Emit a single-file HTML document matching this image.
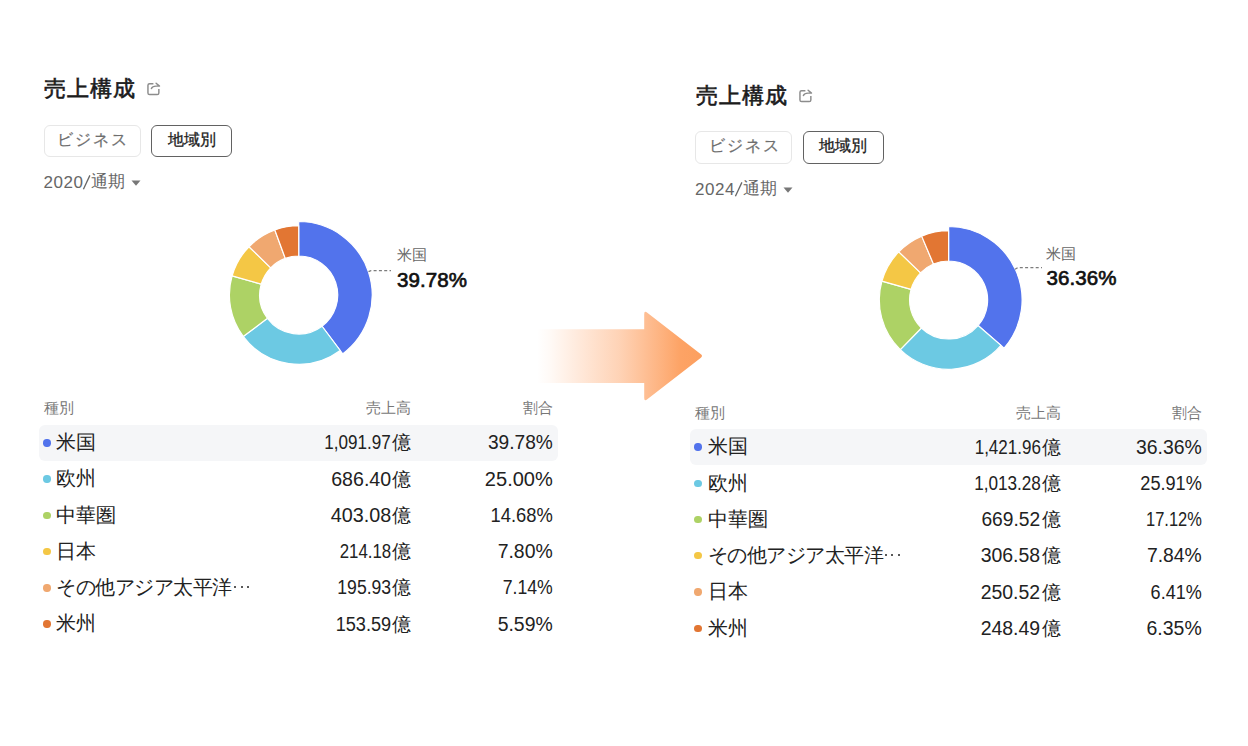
<!DOCTYPE html><html><head><meta charset="utf-8"><style>
*{margin:0;padding:0;box-sizing:border-box}
html,body{width:1248px;height:746px;background:#fff;overflow:hidden;font-family:"Liberation Sans",sans-serif}
.abs{position:absolute;display:block}
.title{position:absolute;font-size:22px;letter-spacing:1px;font-weight:normal;-webkit-text-stroke:0.6px #1b1b1b;color:#1b1b1b;line-height:30px;white-space:nowrap}
.tab{position:absolute;border-radius:6px;font-size:16px;line-height:30px;text-align:center;white-space:nowrap}
.tab1{border:1px solid #e7e7e7;color:#6e6e6e;letter-spacing:2px;text-indent:2px;line-height:28px;-webkit-text-stroke:0.2px #6e6e6e}
.tab2{border:1.3px solid #626262;color:#1d1d1d;-webkit-text-stroke:0.3px #1d1d1d;line-height:28.6px}
.year{position:absolute;font-size:17px;line-height:20px;color:#666;white-space:nowrap}
.lbl{position:absolute;font-size:15px;line-height:20px;color:#666;white-space:nowrap}
.big{position:absolute;font-size:20.5px;line-height:24px;color:#111;font-weight:normal;-webkit-text-stroke:0.7px #111;letter-spacing:0.1px;white-space:nowrap}
.th{position:absolute;font-size:15px;line-height:20px;color:#777;white-space:nowrap}
.td{position:absolute;font-size:20px;line-height:24px;color:#222;white-space:nowrap}
.r{text-align:right}
.tv{font-size:20px}
.sx{display:inline-block;transform-origin:100% 50%}
.oku{font-size:19px;margin-left:1px}
.dot{position:absolute;width:7.4px;height:7.4px;border-radius:50%}
.edot{position:absolute;width:2.3px;height:2.3px;border-radius:50%;background:#222}
.hl{position:absolute;background:#f5f6f8;border-radius:6px}
</style></head><body>
<svg class="abs" style="left:0;top:0" width="1248" height="746" viewBox="0 0 1248 746">
<defs><linearGradient id="ag" x1="537" y1="0" x2="702" y2="0" gradientUnits="userSpaceOnUse">
<stop offset="0" stop-color="#FFA468" stop-opacity="0"/><stop offset="0.08" stop-color="#FFA468" stop-opacity="0.06"/><stop offset="0.5" stop-color="#FEA66C" stop-opacity="0.5"/><stop offset="0.87" stop-color="#FDA365" stop-opacity="1"/><stop offset="1" stop-color="#FC9F5F" stop-opacity="1"/></linearGradient></defs>
<path d="M537.5,329.3 H644.2 V314.2 Q644.2,310.4 647.3,312.8 L700.9,354.3 Q703.1,356 700.9,357.7 L647.3,399.3 Q644.2,401.7 644.2,397.9 V383 H537.5 Z" fill="url(#ag)"/>
</svg>
<div class="title" style="left:44px;top:74px">売上構成</div>
<svg class="abs" style="left:0px;top:0px" width="170" height="100" viewBox="0 0 170 100"><path d="M153.4,83.65 H149.6 Q147.95,83.65 147.95,85.3 V92.9 Q147.95,94.55 149.6,94.55 H157.2 Q158.85,94.55 158.85,92.9 V89.1" fill="none" stroke="#8c8c8c" stroke-width="1.45"/><path d="M151.4,88.5 C152.2,86.7 153.8,86.1 156,86.1 L159.5,86.1 M156.1,83.2 L159.5,86.1" fill="none" stroke="#8c8c8c" stroke-width="1.45" stroke-linecap="round" stroke-linejoin="round"/></svg>
<div class="tab tab1" style="left:43.5px;top:124.5px;width:97px;height:32.5px">ビジネス</div>
<div class="tab tab2" style="left:151px;top:124.5px;width:81px;height:32.5px">地域別</div>
<div class="year" style="left:43.5px;top:173.3px;letter-spacing:0.55px">2020</div>
<svg class="abs" style="left:0px;top:0px" width="100" height="200" viewBox="0 0 100 200"><path d="M83.4,189.2 L89.9,175.4" stroke="#666" stroke-width="1.3" stroke-linecap="butt"/></svg>
<div class="year" style="left:91.2px;top:172.3px">通期</div>
<svg class="abs" style="left:131px;top:180.3px" width="10" height="6" viewBox="0 0 10 6"><path d="M0.5 0.5h9L5 5.8z" fill="#777"/></svg>
<div class="title" style="left:695.5px;top:80.5px">売上構成</div>
<svg class="abs" style="left:651.5px;top:6.5px" width="170" height="100" viewBox="0 0 170 100"><path d="M153.4,83.65 H149.6 Q147.95,83.65 147.95,85.3 V92.9 Q147.95,94.55 149.6,94.55 H157.2 Q158.85,94.55 158.85,92.9 V89.1" fill="none" stroke="#8c8c8c" stroke-width="1.45"/><path d="M151.4,88.5 C152.2,86.7 153.8,86.1 156,86.1 L159.5,86.1 M156.1,83.2 L159.5,86.1" fill="none" stroke="#8c8c8c" stroke-width="1.45" stroke-linecap="round" stroke-linejoin="round"/></svg>
<div class="tab tab1" style="left:695.0px;top:131.0px;width:97px;height:32.5px">ビジネス</div>
<div class="tab tab2" style="left:802.5px;top:131.0px;width:81px;height:32.5px">地域別</div>
<div class="year" style="left:695.0px;top:179.8px;letter-spacing:0.55px">2024</div>
<svg class="abs" style="left:651.5px;top:6.5px" width="100" height="200" viewBox="0 0 100 200"><path d="M83.4,189.2 L89.9,175.4" stroke="#666" stroke-width="1.3" stroke-linecap="butt"/></svg>
<div class="year" style="left:742.7px;top:178.8px">通期</div>
<svg class="abs" style="left:782.5px;top:186.8px" width="10" height="6" viewBox="0 0 10 6"><path d="M0.5 0.5h9L5 5.8z" fill="#777"/></svg>
<svg class="abs" style="left:0;top:0" width="1248" height="746" viewBox="0 0 1248 746">
<path d="M298.70,221.50 A73.5,73.5 0 0 1 342.71,353.87 L322.05,326.24 A39,39 0 0 0 298.70,256.00 Z" fill="#5273EC" stroke="#fff" stroke-width="1.2" stroke-linejoin="round"/>
<path d="M340.19,350.51 A69.3,69.3 0 0 1 243.19,336.48 L267.46,318.34 A39,39 0 0 0 322.05,326.24 Z" fill="#6CC9E3" stroke="#fff" stroke-width="1.2" stroke-linejoin="round"/>
<path d="M243.19,336.48 A69.3,69.3 0 0 1 232.11,275.80 L261.23,284.19 A39,39 0 0 0 267.46,318.34 Z" fill="#ADD265" stroke="#fff" stroke-width="1.2" stroke-linejoin="round"/>
<path d="M232.11,275.80 A69.3,69.3 0 0 1 248.99,246.71 L270.73,267.83 A39,39 0 0 0 261.23,284.19 Z" fill="#F4C745" stroke="#fff" stroke-width="1.2" stroke-linejoin="round"/>
<path d="M248.99,246.71 A69.3,69.3 0 0 1 274.85,229.93 L285.28,258.38 A39,39 0 0 0 270.73,267.83 Z" fill="#F0A870" stroke="#fff" stroke-width="1.2" stroke-linejoin="round"/>
<path d="M274.85,229.93 A69.3,69.3 0 0 1 298.70,225.70 L298.70,256.00 A39,39 0 0 0 285.28,258.38 Z" fill="#E27633" stroke="#fff" stroke-width="1.2" stroke-linejoin="round"/>
<path d="M948.60,226.50 A73.5,73.5 0 0 1 1004.15,348.13 L978.07,325.54 A39,39 0 0 0 948.60,261.00 Z" fill="#5273EC" stroke="#fff" stroke-width="1.2" stroke-linejoin="round"/>
<path d="M1000.97,345.38 A69.3,69.3 0 0 1 900.29,349.69 L921.41,327.96 A39,39 0 0 0 978.07,325.54 Z" fill="#6CC9E3" stroke="#fff" stroke-width="1.2" stroke-linejoin="round"/>
<path d="M900.29,349.69 A69.3,69.3 0 0 1 881.93,281.09 L911.08,289.36 A39,39 0 0 0 921.41,327.96 Z" fill="#ADD265" stroke="#fff" stroke-width="1.2" stroke-linejoin="round"/>
<path d="M881.93,281.09 A69.3,69.3 0 0 1 898.80,251.81 L920.57,272.88 A39,39 0 0 0 911.08,289.36 Z" fill="#F4C745" stroke="#fff" stroke-width="1.2" stroke-linejoin="round"/>
<path d="M898.80,251.81 A69.3,69.3 0 0 1 921.68,236.14 L933.45,264.06 A39,39 0 0 0 920.57,272.88 Z" fill="#F0A870" stroke="#fff" stroke-width="1.2" stroke-linejoin="round"/>
<path d="M921.68,236.14 A69.3,69.3 0 0 1 948.60,230.70 L948.60,261.00 A39,39 0 0 0 933.45,264.06 Z" fill="#E27633" stroke="#fff" stroke-width="1.2" stroke-linejoin="round"/>
<path d="M368.5,271.6 L371,270.6 H391" fill="none" stroke="#7c7c7c" stroke-width="1.25" stroke-dasharray="3 2.3"/>
<path d="M1015,269.3 L1018,267.5 H1042" fill="none" stroke="#7c7c7c" stroke-width="1.25" stroke-dasharray="3 2.3"/>
</svg>
<div class="lbl" style="left:397px;top:245px">米国</div>
<div class="big" style="left:397px;top:268px">39.78%</div>
<div class="lbl" style="left:1046px;top:243.5px">米国</div>
<div class="big" style="left:1046.5px;top:266px">36.36%</div>
<div class="th" style="left:43.5px;top:398px">種別</div>
<div class="th r" style="left:311px;width:100px;top:398px">売上高</div>
<div class="th r" style="left:453px;width:100px;top:398px">割合</div>
<div class="hl" style="left:38.5px;top:425.00px;width:519.5px;height:35.8px"></div>
<div class="dot" style="left:43.20px;top:439.20px;background:#5273EC"></div>
<div class="td" style="left:56.30px;top:430.20px">米国</div>
<div class="td tv r" style="left:211px;width:200px;top:430.40px"><span class="sx" style="transform:scaleX(0.854)">1,091.97</span><span class="oku">億</span></div>
<div class="td tv r" style="left:353px;width:200px;top:430.40px"><span class="sx" style="transform:scaleX(0.956)">39.78%</span></div>
<div class="dot" style="left:43.20px;top:475.45px;background:#6CC9E3"></div>
<div class="td" style="left:56.30px;top:466.45px">欧州</div>
<div class="td tv r" style="left:211px;width:200px;top:466.65px"><span class="sx" style="transform:scaleX(0.980)">686.40</span><span class="oku">億</span></div>
<div class="td tv r" style="left:353px;width:200px;top:466.65px"><span class="sx" style="transform:scaleX(1.002)">25.00%</span></div>
<div class="dot" style="left:43.20px;top:511.70px;background:#ADD265"></div>
<div class="td" style="left:56.30px;top:502.70px">中華圏</div>
<div class="td tv r" style="left:211px;width:200px;top:502.90px"><span class="sx" style="transform:scaleX(0.988)">403.08</span><span class="oku">億</span></div>
<div class="td tv r" style="left:353px;width:200px;top:502.90px"><span class="sx" style="transform:scaleX(0.918)">14.68%</span></div>
<div class="dot" style="left:43.20px;top:547.95px;background:#F4C745"></div>
<div class="td" style="left:56.30px;top:538.95px">日本</div>
<div class="td tv r" style="left:211px;width:200px;top:539.15px"><span class="sx" style="transform:scaleX(0.841)">214.18</span><span class="oku">億</span></div>
<div class="td tv r" style="left:353px;width:200px;top:539.15px"><span class="sx" style="transform:scaleX(0.971)">7.80%</span></div>
<div class="dot" style="left:43.20px;top:584.20px;background:#F0A870"></div>
<div class="td" style="letter-spacing:-0.5px;left:56.30px;top:575.20px">その他アジア太平洋</div>
<div class="edot" style="left:234.20px;top:586.10px"></div>
<div class="edot" style="left:240.70px;top:586.10px"></div>
<div class="edot" style="left:247.20px;top:586.10px"></div>
<div class="td tv r" style="left:211px;width:200px;top:575.40px"><span class="sx" style="transform:scaleX(0.881)">195.93</span><span class="oku">億</span></div>
<div class="td tv r" style="left:353px;width:200px;top:575.40px"><span class="sx" style="transform:scaleX(0.882)">7.14%</span></div>
<div class="dot" style="left:43.20px;top:620.45px;background:#E27633"></div>
<div class="td" style="left:56.30px;top:611.45px">米州</div>
<div class="td tv r" style="left:211px;width:200px;top:611.65px"><span class="sx" style="transform:scaleX(0.907)">153.59</span><span class="oku">億</span></div>
<div class="td tv r" style="left:353px;width:200px;top:611.65px"><span class="sx" style="transform:scaleX(0.971)">5.59%</span></div>
<div class="th" style="left:694.7px;top:402.5px">種別</div>
<div class="th r" style="left:960.5px;width:100px;top:402.5px">売上高</div>
<div class="th r" style="left:1101.5px;width:100px;top:402.5px">割合</div>
<div class="hl" style="left:689.7px;top:429.10px;width:517.3px;height:35.8px"></div>
<div class="dot" style="left:694.40px;top:443.30px;background:#5273EC"></div>
<div class="td" style="left:707.50px;top:434.30px">米国</div>
<div class="td tv r" style="left:860.5px;width:200px;top:434.50px"><span class="sx" style="transform:scaleX(0.850)">1,421.96</span><span class="oku">億</span></div>
<div class="td tv r" style="left:1001.5px;width:200px;top:434.50px"><span class="sx" style="transform:scaleX(0.972)">36.36%</span></div>
<div class="dot" style="left:694.40px;top:479.55px;background:#6CC9E3"></div>
<div class="td" style="left:707.50px;top:470.55px">欧州</div>
<div class="td tv r" style="left:860.5px;width:200px;top:470.75px"><span class="sx" style="transform:scaleX(0.857)">1,013.28</span><span class="oku">億</span></div>
<div class="td tv r" style="left:1001.5px;width:200px;top:470.75px"><span class="sx" style="transform:scaleX(0.907)">25.91%</span></div>
<div class="dot" style="left:694.40px;top:515.80px;background:#ADD265"></div>
<div class="td" style="left:707.50px;top:506.80px">中華圏</div>
<div class="td tv r" style="left:860.5px;width:200px;top:507.00px"><span class="sx" style="transform:scaleX(0.961)">669.52</span><span class="oku">億</span></div>
<div class="td tv r" style="left:1001.5px;width:200px;top:507.00px"><span class="sx" style="transform:scaleX(0.823)">17.12%</span></div>
<div class="dot" style="left:694.40px;top:552.05px;background:#F4C745"></div>
<div class="td" style="letter-spacing:-0.5px;left:707.50px;top:543.05px">その他アジア太平洋</div>
<div class="edot" style="left:884.50px;top:553.95px"></div>
<div class="edot" style="left:891.00px;top:553.95px"></div>
<div class="edot" style="left:897.50px;top:553.95px"></div>
<div class="td tv r" style="left:860.5px;width:200px;top:543.25px"><span class="sx" style="transform:scaleX(0.973)">306.58</span><span class="oku">億</span></div>
<div class="td tv r" style="left:1001.5px;width:200px;top:543.25px"><span class="sx" style="transform:scaleX(0.966)">7.84%</span></div>
<div class="dot" style="left:694.40px;top:588.30px;background:#F0A870"></div>
<div class="td" style="left:707.50px;top:579.30px">日本</div>
<div class="td tv r" style="left:860.5px;width:200px;top:579.50px"><span class="sx" style="transform:scaleX(0.973)">250.52</span><span class="oku">億</span></div>
<div class="td tv r" style="left:1001.5px;width:200px;top:579.50px"><span class="sx" style="transform:scaleX(0.901)">6.41%</span></div>
<div class="dot" style="left:694.40px;top:624.55px;background:#E27633"></div>
<div class="td" style="left:707.50px;top:615.55px">米州</div>
<div class="td tv r" style="left:860.5px;width:200px;top:615.75px"><span class="sx" style="transform:scaleX(0.973)">248.49</span><span class="oku">億</span></div>
<div class="td tv r" style="left:1001.5px;width:200px;top:615.75px"><span class="sx" style="transform:scaleX(0.974)">6.35%</span></div>
</body></html>
